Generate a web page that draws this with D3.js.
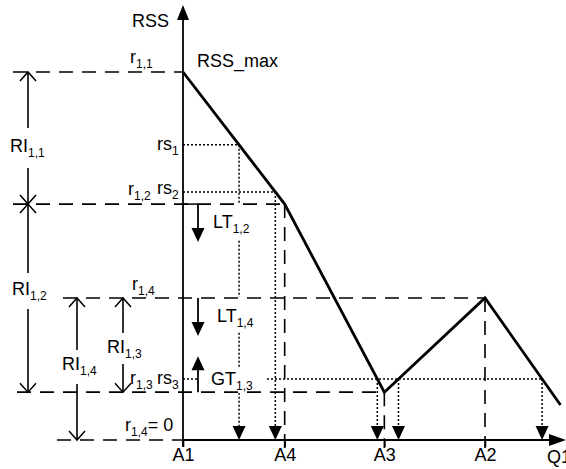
<!DOCTYPE html>
<html><head><meta charset="utf-8">
<script src="https://cdn.jsdelivr.net/npm/d3@7"></script>
<style>
body{margin:0;background:#fff}
svg{display:block}
text{font-family:Arial,"Liberation Sans",sans-serif;fill:#000}
</style>
</head><body><svg id="c" width="566" height="469"></svg>
<script>
// ---------------- data ----------------
const qCategories = ["A1", "A4", "A3", "A2"];
const qPositions  = [0, 1.01, 2, 3];
const lineQ   = [0, 1.01, 2, 3, 3.75];
const lineRSS = [100, 64.1, 13.0, 38.6, 9.5];
// reference levels r(1,k)
const levelKeys   = ["r11", "r12", "r14", "r13", "zero"];
const levelValues = [100, 64.1, 38.6, 13.0, 0];
// sample levels rs
const sampleNames  = ["rs1", "rs2", "rs3"];
const sampleValues = [80.2, 67.4, 16.6];

const L = Object.fromEntries(levelKeys.map((k, i) => [k, levelValues[i]]));

// ---------------- scales ----------------
const x = d3.scaleLinear().domain([0, 3]).range([183, 485]);
const y = d3.scaleLinear().domain([0, 100]).range([440, 72]);
const svg = d3.select("#c");
const FS = 18, SFS = 12;

const gDot = svg.append("g"), gMask = svg.append("g"), gDash = svg.append("g"),
      gSolid = svg.append("g"), gText = svg.append("g");

// crossings of a horizontal level with the polyline
function crossings(v) {
  const out = [];
  for (let i = 0; i < lineQ.length - 1; i++) {
    const a = lineRSS[i], b = lineRSS[i + 1];
    if ((v - a) * (v - b) < 0) {
      const t = (v - a) / (b - a);
      out.push(lineQ[i] + t * (lineQ[i + 1] - lineQ[i]));
    }
  }
  return out;
}

function seg(g, x1, y1, x2, y2, cls) {
  const s = g.append("line").attr("x1", x1).attr("y1", y1).attr("x2", x2).attr("y2", y2)
    .attr("stroke", "#000");
  if (cls === "dash") s.attr("stroke-width", 1.6).attr("stroke-dasharray", "14,9");
  else if (cls === "dot") s.attr("stroke-width", 1.5).attr("stroke-dasharray", "2,2");
  else s.attr("stroke-width", 1.6);
  return s;
}
function filledHead(g, xt, yt, dir) { // dir 1 = down, -1 = up, 2 = up arrow (y axis), 'r' right
  if (dir === "r") {
    g.append("path").attr("d", `M${xt},${yt} L${xt - 17},${yt - 6} L${xt - 17},${yt + 6} Z`).attr("fill", "#000");
    return;
  }
  g.append("path").attr("d", `M${xt},${yt} L${xt - 6.5},${yt - dir * 14} L${xt + 6.5},${yt - dir * 14} Z`)
    .attr("fill", "#000");
}
function openHead(g, xt, yt, dir) {
  g.append("path").attr("d", `M${xt - 8},${yt - dir * 9} L${xt},${yt} L${xt + 8},${yt - dir * 9}`)
    .attr("fill", "none").attr("stroke", "#000").attr("stroke-width", 1.5);
}
// label with subscripts; parts: [text, sub?]
function label(px, py, parts, mask) {
  const t = gText.append("text").attr("x", px).attr("y", py).attr("font-size", FS);
  let inSub = false;
  parts.forEach(([s, sub]) => {
    const ts = t.append("tspan").text(s);
    if (sub && !inSub) ts.attr("dy", 5).attr("font-size", SFS);
    else if (sub) ts.attr("font-size", SFS);
    else if (!sub && inSub) ts.attr("dy", -5);
    inSub = !!sub;
  });
  if (mask) {
    const b = t.node().getBBox();
    gMask.append("rect").attr("x", b.x - mask[0]).attr("y", b.y - mask[2])
      .attr("width", b.width + mask[0] + mask[1]).attr("height", b.height + mask[2] + mask[3])
      .attr("fill", "#fff");
  }
  return t;
}

// ---------------- dotted sample lines ----------------
sampleValues.forEach(v => {
  const cs = crossings(v);
  const xmax = d3.max(cs);
  seg(gDot, x(0), y(v), x(xmax), y(v), "dot");
  cs.forEach(q => {
    seg(gDot, x(q), y(v), x(q), y(0) - 13, "dot");
    filledHead(gSolid, x(q), y(0), 1);
  });
});

// ---------------- RI dimension arrows (left) ----------------
const riX = [28, 28, 123, 77];
const riSpans = [[L.r11, L.r12], [L.r12, L.r13], [L.r14, L.r13], [L.r14, L.zero]];
riSpans.forEach(([top, bot], i) => {
  seg(gDot, riX[i], y(top), riX[i], y(bot));
  openHead(gSolid, riX[i], y(top), -1);
  openHead(gSolid, riX[i], y(bot), 1);
});

// ---------------- dashed reference lines ----------------
const hStart = [13, 13, 63, 17, 57];
const hEndQ  = [0, qPositions[1], qPositions[3], 1.96, 0];
levelKeys.forEach((k, i) => seg(gDash, hStart[i], y(L[k]), x(hEndQ[i]), y(L[k]), "dash"));
seg(gDash, x(qPositions[1]), y(L.r12), x(qPositions[1]), y(0) + 8, "dash");
seg(gDash, x(qPositions[3]), y(L.r14), x(qPositions[3]), y(0) + 8, "dash");
seg(gDash, x(qPositions[2]), y(L.r13), x(qPositions[2]), y(0) + 8, "dash");

// ---------------- main RSS curve ----------------
const pts = lineQ.map((q, i) => [x(q), y(lineRSS[i])]);
gSolid.append("path").attr("d", d3.line()(pts)).attr("fill", "none")
  .attr("stroke", "#000").attr("stroke-width", 2.8).attr("stroke-linejoin", "miter");

// ---------------- LT / GT arrows ----------------
const ax = x(0) + 15;
seg(gSolid, x(0), y(L.r12), ax, y(L.r12)).attr("stroke-width", 1.5);
seg(gSolid, ax, y(L.r12), ax, y(L.r12) + 30).attr("stroke-width", 1.8);
filledHead(gSolid, ax, y(L.r12) + 38, 1);
seg(gSolid, ax, y(L.r14), ax, y(L.r14) + 30).attr("stroke-width", 1.8);
filledHead(gSolid, ax, y(L.r14) + 38, 1);
seg(gSolid, ax, y(L.r13), ax, y(L.r13) - 28).attr("stroke-width", 1.8);
filledHead(gSolid, ax, y(L.r13) - 36, -1);

// ---------------- axes ----------------
seg(gSolid, x(0), y(0) + 7, x(0), 18).attr("stroke-width", 1.8);
svg.append("path").attr("d", `M${x(0)},5 L${x(0) - 6},20 L${x(0) + 6},20 Z`).attr("fill", "#000");
seg(gSolid, x(0), y(0), 552, y(0)).attr("stroke-width", 1.8);
filledHead(svg, 566, y(0), "r");

const xAxis = d3.axisBottom(x).tickValues(qPositions)
  .tickFormat((d, i) => qCategories[i]).tickSize(7).tickPadding(1);
const ga = svg.append("g").attr("transform", `translate(0,${y(0)})`).call(xAxis);
ga.select(".domain").remove();
ga.selectAll(".tick line").attr("stroke-width", 1.6);
ga.selectAll("text").attr("font-size", FS).attr("font-family", "Arial, 'Liberation Sans', sans-serif");
label(547, 463, [["Q"], ["1"]]);

// ---------------- labels ----------------
label(132, 27, [["RSS"]]);
label(130, 63, [["r"], ["1,1", 1]]);
label(197, 67, [["RSS_max"]]);
label(157, 150, [["rs"], ["1", 1]]);
label(128, 195, [["r"], ["1,2", 1]]);
label(157, 194, [["rs"], ["2", 1]]);
label(132, 290, [["r"], ["1,4", 1]]);
label(130, 384, [["r"], ["1,3", 1]]);
label(157, 384, [["rs"], ["3", 1]]);
label(125, 431, [["r"], ["1,4", 1], ["= 0"]]);

label(213, 228, [["LT"], ["1,2", 1]], [3, 3, 9, 3]);
label(217, 322, [["LT"], ["1,4", 1]], [3, 3, 9, 2]);
label(211, 385, [["GT"], ["1,3", 1]], [14, 14, 2, 0]);

label(10, 152, [["RI"], ["1,1", 1]], [3, 3, 8, 8]);
label(12, 295, [["RI"], ["1,2", 1]], [3, 3, 6, 6]);
label(107, 353, [["RI"], ["1,3", 1]], [3, 3, 4, 3]);
label(62, 370, [["RI"], ["1,4", 1]], [3, 3, 4, 6]);
</script>
</body></html>
